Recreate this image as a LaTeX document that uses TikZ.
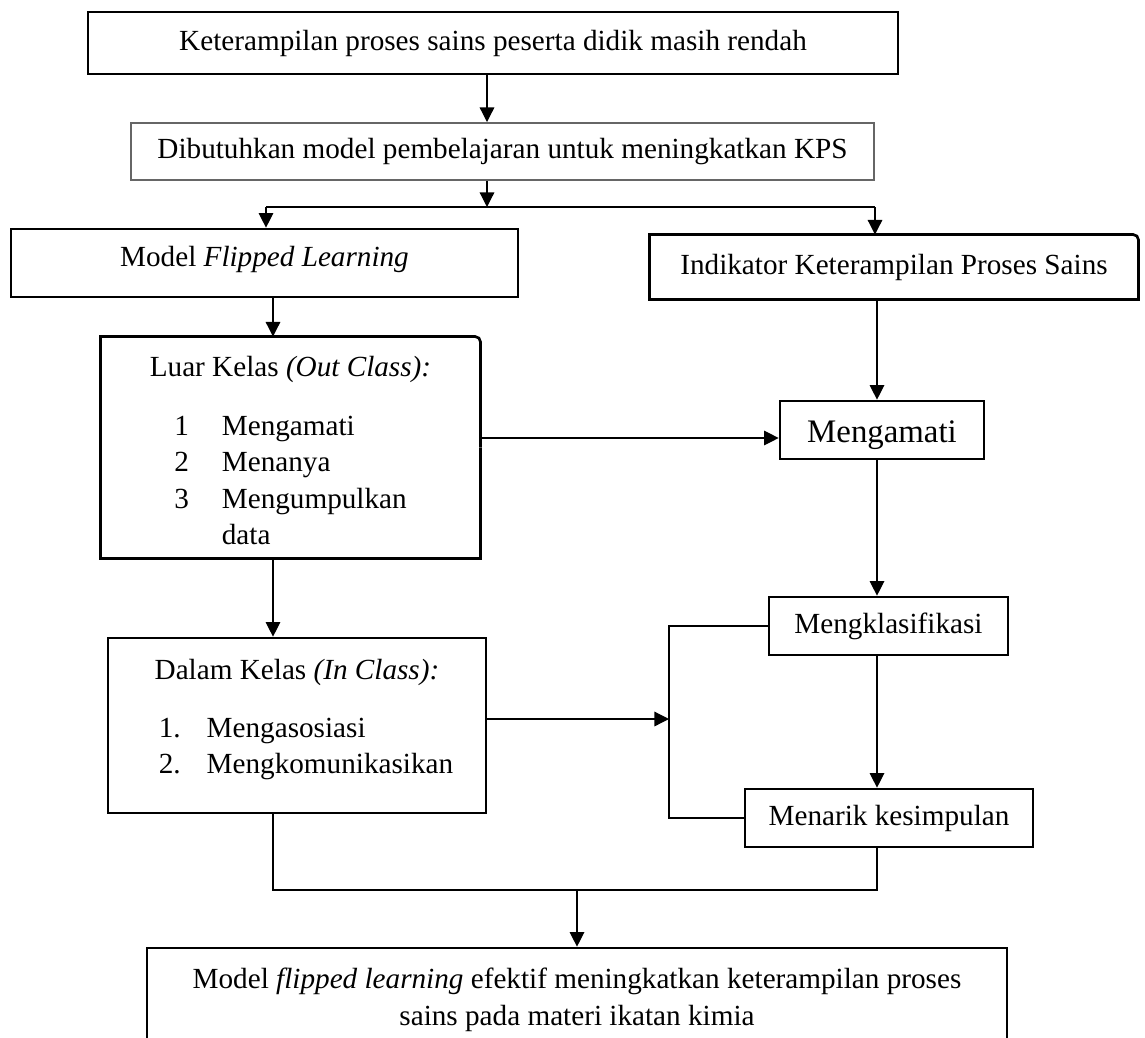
\documentclass[tikz,border=0pt]{standalone}
\usepackage{fontspec}
\setmainfont{Liberation Serif}
\usetikzlibrary{calc,arrows.meta}

\newdimen\upx \upx=0.411pt
\tikzset{
  flowbox/.style={draw, line width=1.1pt, inner sep=0pt},
  softbox/.style={draw=black!60, line width=0.8pt, inner sep=0pt},
  openbox/.style={inner sep=0pt},
  link/.style={line width=0.5pt},
  arr/.style={link, -{Triangle[length=6pt,width=6pt]}}
}
% box with one rounded corner (top right)
\newcommand\cornerbox[1]{%
  \draw[line width=1.1pt, rounded corners=2.2pt] (#1.north) -- (#1.north east) -- (#1.east);
  \draw[line width=1.1pt] (#1.east) -- (#1.south east) -- (#1.south west) -- (#1.north west) -- (#1.north);}

\begin{document}
\begin{tikzpicture}[x=0.411pt, y=-0.411pt, font=\fontsize{12}{15}\selectfont]
  \useasboundingbox (0,0) rectangle (1145,1037);
  % ---------------- top ----------------
  \node[flowbox, minimum width=810*\upx, minimum height=62*\upx] (masalah) at (493,43)
    {Keterampilan proses sains peserta didik masih rendah};
  \node[softbox, minimum width=743*\upx, minimum height=57*\upx] (butuh) at (502.5,151.5)
    {Dibutuhkan model pembelajaran untuk meningkatkan KPS};
  \coordinate (j) at (487,207);
  \coordinate (jl) at (266,207);
  \coordinate (jr) at (875,207);
  % ---------------- left column ----------------
  \node[flowbox, minimum width=507*\upx, minimum height=68*\upx, text height=8.3pt, text depth=5.4pt] (flipped) at (264.5,263)
    {Model \textit{Flipped Learning}};
  \node[openbox, minimum width=379*\upx, minimum height=221*\upx] (luar) at (290.5,447.5)
    {\begin{tabular}{@{}c@{}}\rule{0pt}{15.5pt}Luar Kelas \textit{(Out Class):}\\[9pt]
     \begin{tabular}[t]{@{}l@{\hspace{33\upx}}l@{}}1&Mengamati\\2&Menanya\\3&Mengumpulkan\\&data\end{tabular}\end{tabular}};
  \node[flowbox, minimum width=378*\upx, minimum height=175*\upx] (dalam) at (297,725.5)
    {\begin{tabular}{@{}c@{}}Dalam Kelas \textit{(In Class):}\\[9pt]
     \hspace*{18\upx}\begin{tabular}[t]{@{}l@{\hspace{26\upx}}l@{}}1.&Mengasosiasi\\2.&Mengkomunikasikan\\[5.2pt]\end{tabular}\end{tabular}};
  % ---------------- right column ----------------
  \node[openbox, minimum width=488*\upx, minimum height=64*\upx] (indikator) at (894,267)
    {Indikator Keterampilan Proses Sains};
  \node[flowbox, minimum width=204*\upx, minimum height=58*\upx, text height=13pt, font=\fontsize{13.5}{16}\selectfont] (amati) at (882,430) {Mengamati};
  \node[flowbox, minimum width=239*\upx, minimum height=58*\upx] (klas) at (888.5,626) {Mengklasifikasi};
  \node[flowbox, minimum width=288*\upx, minimum height=58*\upx] (tarik) at (889,818) {Menarik kesimpulan};
  \node[flowbox, minimum width=860*\upx, minimum height=104*\upx, align=center] (hasil) at (577,1000)
    {Model \textit{flipped learning} efektif meningkatkan keterampilan proses\\sains pada materi ikatan kimia};
  \cornerbox{indikator}
  \cornerbox{luar}
  % ---------------- arrows ----------------
  \coordinate (kl) at (273,0);
  \coordinate (kr) at (877,0);
  \coordinate (kb) at (669,0);
  \coordinate (ra) at (0,438);
  \coordinate (rb) at (0,719);
  \coordinate (jb) at (577,890);
  \draw[arr] (j |- masalah.south) -- (j |- butuh.north);
  \draw[arr] (j |- butuh.south) -- (j);
  \draw[link] (jl) -- (jr);
  \draw[arr] (jl) -- (jl |- flipped.north);
  \draw[arr] (jr) -- (jr |- indikator.north);
  \draw[arr] (kl |- flipped.south) -- (kl |- luar.north);
  \draw[arr] (kl |- luar.south) -- (kl |- dalam.north);
  \draw[arr] (luar.east |- ra) -- (amati.west |- ra);
  \draw[arr] (kr |- indikator.south) -- (kr |- amati.north);
  \draw[arr] (kr |- amati.south) -- (kr |- klas.north);
  \draw[arr] (kr |- klas.south) -- (kr |- tarik.north);
  \draw[link] (klas.west) -- (klas.west -| kb) -- (tarik.west -| kb) -- (tarik.west);
  \draw[arr] (dalam.east |- rb) -- (kb |- rb);
  \draw[link] (kl |- dalam.south) -- (kl |- jb) -- (kr |- jb) -- (kr |- tarik.south);
  \draw[arr] (jb) -- (hasil.north);
\end{tikzpicture}
\end{document}
